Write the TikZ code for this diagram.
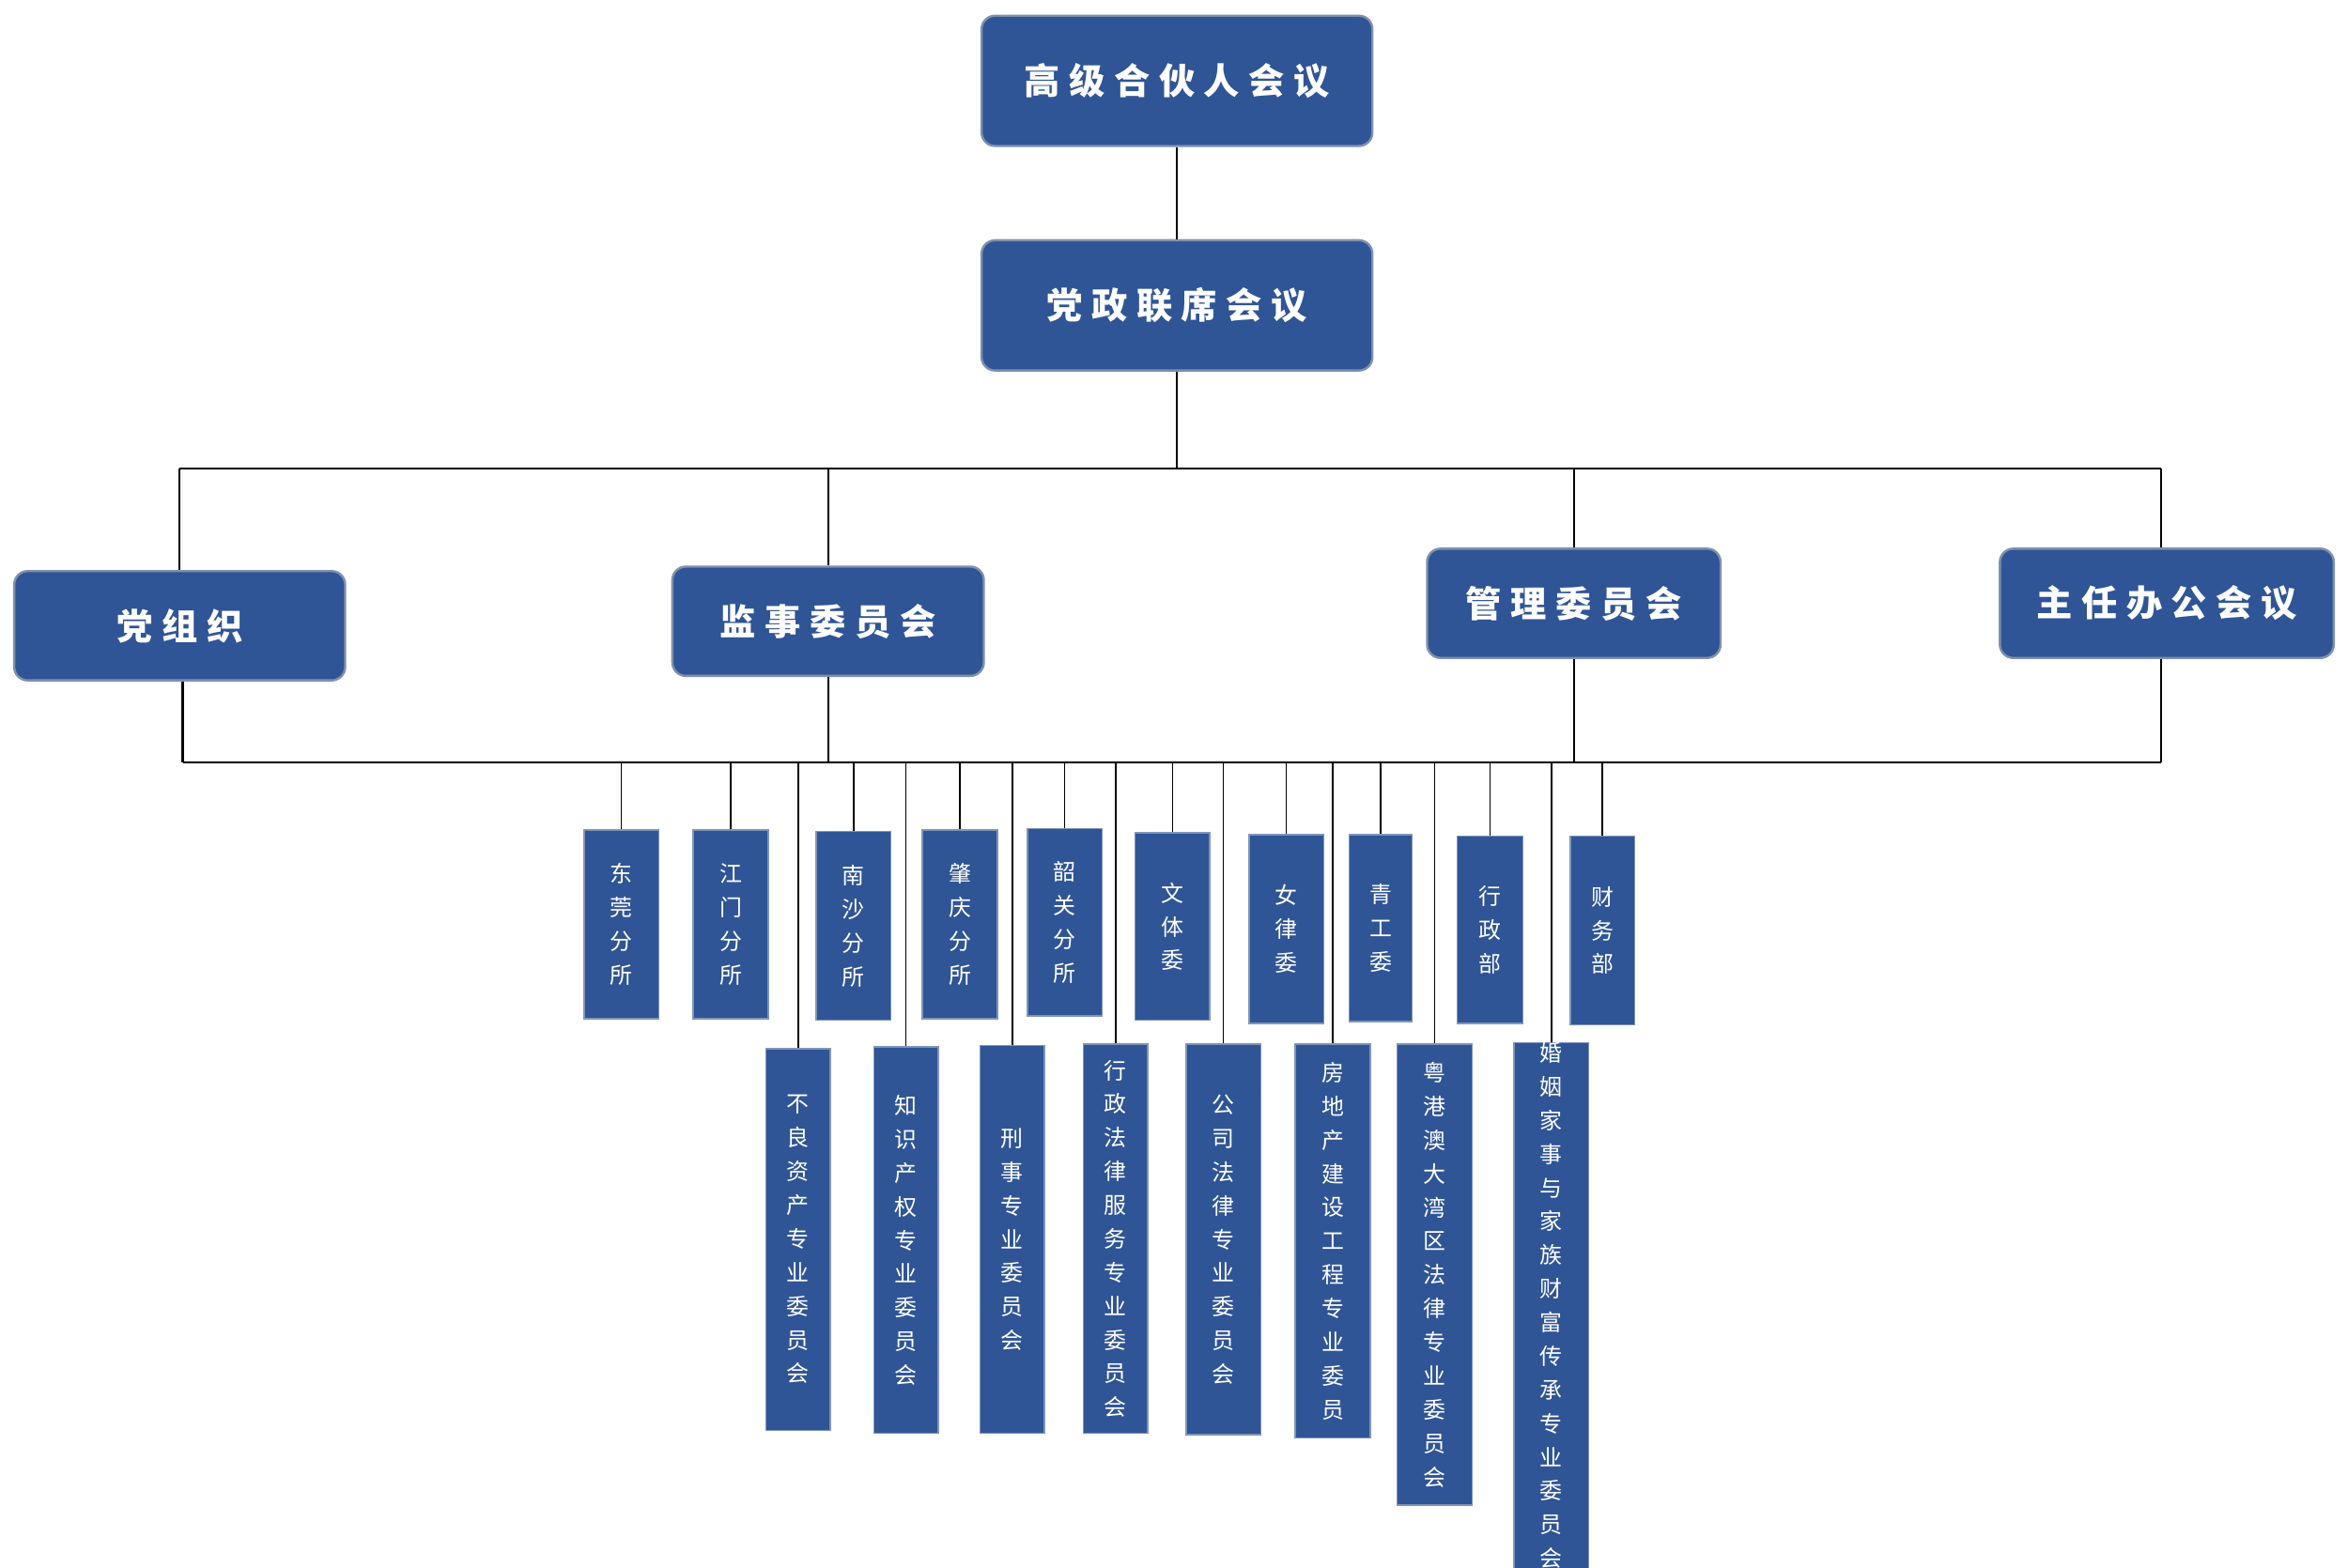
\documentclass[tikz,border=0pt]{standalone}
\usepackage{fontspec}
\newfontfamily\cjk{Noto Sans CJK SC}
\newfontfamily\cjkw[LetterSpace=25]{Noto Sans CJK SC}
\definecolor{bfill}{HTML}{2F5597}
\definecolor{bedge}{HTML}{7F95B8}
\begin{document}
\begin{tikzpicture}[x=1pt,y=-1pt,
  big/.style={draw=bedge!80!gray,line width=1.5pt,fill=bfill,rounded corners=9pt,text=white,font=\cjkw\fontsize{24}{28}\selectfont\bfseries},
  sm/.style={draw=bedge,line width=1pt,fill=bfill,text=white,align=center,font=\cjk\fontsize{15}{22.5}\selectfont},
  ln/.style={line width=1.3pt}]
\useasboundingbox (0,0) rectangle (1568,1047);
\fill[white] (0,0) rectangle (1568,1047);
\newcommand{\bx}[6]{\node[#6,minimum width=#4 pt-2pt,minimum height=#5 pt-2pt,inner sep=0pt] (#1) at (#2,#3) {#1text};}
% top boxes
\node[big,minimum width=261pt,minimum height=87pt] (a) at (786,54) {高级合伙人会议};
\node[big,minimum width=261pt,minimum height=87pt] (b) at (786,204) {党政联席会议};
\node[big,minimum width=221pt,minimum height=73pt] (c1) at (120,418) {党组织};
\node[big,minimum width=208pt,minimum height=73pt] (c2) at (553,415) {监事委员会};
\node[big,minimum width=196pt,minimum height=73pt] (c3) at (1051,403) {管理委员会};
\node[big,minimum width=223pt,minimum height=73pt] (c4) at (1447,403) {主任办公会议};
\draw[ln] (a.south) -- (b.north);
\coordinate (t0) at (786,313);
\draw[ln] (b.south) -- (t0);
\coordinate (tl) at (120,313); \coordinate (tr) at (1443,313);
\draw[ln] (tl) -- (tr);
\draw[ln] (tl) -- (c1.north -| tl);
\draw[ln] (c2.north |- tl) -- (c2.north);
\draw[ln] (c3.north |- tl) -- (c3.north);
\draw[ln] (tr) -- (c4.north -| tr);
\coordinate (bl) at (122,509); \coordinate (br) at (1443,509);
\draw[ln] (bl) -- (br);
\draw[ln] (c1.south -| bl) -- (bl);
\draw[ln] (c2.south) -- (c2.south |- bl);
\draw[ln] (c3.south) -- (c3.south |- bl);
\draw[ln] (c4.south -| br) -- (br);
% small boxes: name, cx, top, bottom, width, text
\foreach \n/\x/\t/\b/\w/\s in {
 d1/415/554/680/50/{东\\莞\\分\\所},
 d2/488/554/680/50/{江\\门\\分\\所},
 d3/570/555/681/50/{南\\沙\\分\\所},
 d4/641/554/680/50/{肇\\庆\\分\\所},
 d5/711/553/678/50/{韶\\关\\分\\所},
 d6/783/556/681/50/{文\\体\\委},
 d7/859/557/683/50/{女\\律\\委},
 d8/922/557/682/42/{青\\工\\委},
 d9/995/558/683/44/{行\\政\\部},
 d10/1070/558/684/43/{财\\务\\部},
 e1/533/700/955/43/{不\\良\\资\\产\\专\\业\\委\\员\\会},
 e2/605/699/957/43/{知\\识\\产\\权\\专\\业\\委\\员\\会},
 e3/676/698/957/43/{刑\\事\\专\\业\\委\\员\\会},
 e4/745/697/957/43/{行\\政\\法\\律\\服\\务\\专\\业\\委\\员\\会},
 e5/817/697/958/50/{公\\司\\法\\律\\专\\业\\委\\员\\会},
 e6/890/697/960/50/{房\\地\\产\\建\\设\\工\\程\\专\\业\\委\\员},
 e7/958/697/1005/50/{粤\\港\\澳\\大\\湾\\区\\法\\律\\专\\业\\委\\员\\会},
 e8/1036/696/1037/50/{婚\\姻\\家\\事\\与\\家\\族\\财\\富\\传\\承\\专\\业\\委\\员\\会}}{
  \node[sm,minimum width=\w pt,minimum height={(\b-\t)*1pt},inner sep=0pt,anchor=north] (\n) at (\x,\t) {\s};
  \draw[ln,line width=1pt] (\n.north |- bl) -- (\n.north);
}
\end{tikzpicture}
\end{document}
